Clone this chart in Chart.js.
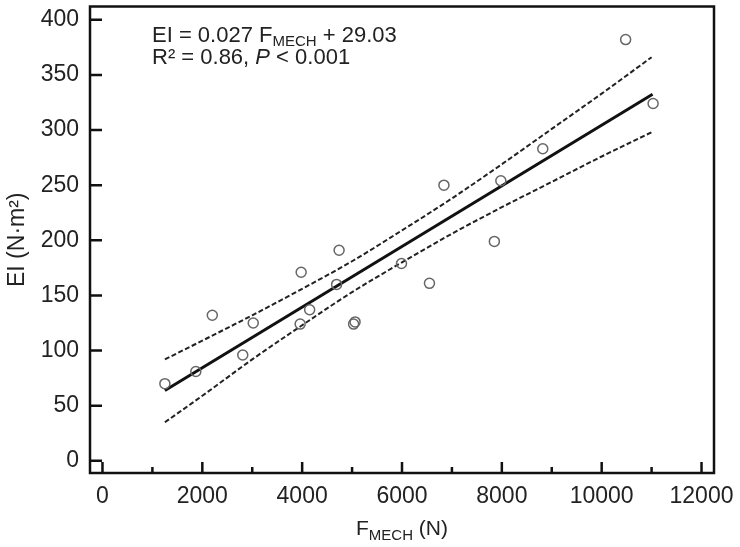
<!DOCTYPE html>
<html>
<head>
<meta charset="utf-8">
<script src="https://cdn.jsdelivr.net/npm/chart.js@4"></script>
<style>
  html, body { margin: 0; background: #fff; }
</style>
</head>
<body>
<canvas id="chart" width="740" height="547"></canvas>
<script>
const FONT = "'Liberation Sans', Arial, sans-serif";
const ink = "#222";

// observations: F_MECH (N) vs EI (N·m²)
const forceN = [1250, 1870, 2200, 2810, 3020, 3980, 3960, 4150, 4690, 4740, 5030, 5060, 5990, 6550, 6840, 7850, 7980, 8820, 10480, 11030];
const eiVals = [70, 81, 132, 96, 125, 171, 124, 137, 160, 191, 124, 126, 179, 161, 250, 199, 254, 283, 382, 324];

// regression line (ends)
const fitX = [1250, 11020];
const fitY = [63.8, 332.5];

// 95% confidence band, read at a few points
const bandX  = [1250, 2000, 3000, 4000, 5000, 6000, 7000, 8000, 9000, 10000, 11000];
const upperY = [92, 109, 132, 156, 181, 209, 238, 269, 301, 333, 366];
const lowerY = [35, 59, 92, 123, 153, 180, 206, 230, 253, 276, 298];

const xTicks = [0, 2000, 4000, 6000, 8000, 10000, 12000];
const xMinor = [1000, 3000, 5000, 7000, 9000, 11000];
const yTicks = [0, 50, 100, 150, 200, 250, 300, 350, 400];

const pts = (xs, ys) => xs.map((x, i) => ({ x: x, y: ys[i] }));

// draws text runs: [text, size, dy, italic]
function runs(ctx, x, y, parts, align) {
  let total = 0;
  parts.forEach(p => {
    ctx.font = (p[3] ? "italic " : "") + p[1] + "px " + FONT;
    p.w = ctx.measureText(p[0]).width;
    total += p.w;
  });
  let cx = align === "center" ? x - total / 2 : x;
  parts.forEach(p => {
    ctx.font = (p[3] ? "italic " : "") + p[1] + "px " + FONT;
    ctx.fillText(p[0], cx, y + p[2]);
    cx += p.w;
  });
}

const framePlugin = {
  id: "frame",
  afterDatasetsDraw(chart) {
    const { ctx, chartArea: a, scales: { x, y } } = chart;
    ctx.save();
    ctx.strokeStyle = "#111";
    ctx.lineWidth = 2.5;
    ctx.strokeRect(a.left, a.top, a.right - a.left, a.bottom - a.top);
    ctx.beginPath();
    xTicks.forEach(v => {
      const px = x.getPixelForValue(v);
      ctx.moveTo(px, a.bottom); ctx.lineTo(px, a.bottom - 11);
    });
    xMinor.forEach(v => {
      const px = x.getPixelForValue(v);
      ctx.moveTo(px, a.bottom); ctx.lineTo(px, a.bottom - 6);
    });
    yTicks.forEach(v => {
      const py = y.getPixelForValue(v);
      ctx.moveTo(a.left, py); ctx.lineTo(a.left + 12, py);
    });
    ctx.stroke();

    ctx.fillStyle = ink;
    ctx.textBaseline = "alphabetic";
    ctx.textAlign = "left";
    runs(ctx, 152, 42, [["EI = 0.027 F", 22, 0], ["MECH", 15, 4], [" + 29.03", 22, 0]]);
    runs(ctx, 152, 64, [["R\u00B2 = 0.86, ", 22, 0], ["P", 22, 0, true], [" < 0.001", 22, 0]]);

    // axis titles
    const cxm = (a.left + a.right) / 2;
    runs(ctx, cxm, 535, [["F", 21, 0], ["MECH", 15, 5], [" (N)", 21, 0]], "center");
    ctx.translate(24, (a.top + a.bottom) / 2);
    ctx.rotate(-Math.PI / 2);
    ctx.font = "23px " + FONT;
    ctx.textAlign = "center";
    ctx.fillText("EI (N\u00B7m\u00B2)", 0, 0);
    ctx.restore();
  }
};

new Chart(document.getElementById("chart"), {
  type: "scatter",
  data: {
    datasets: [
      { data: pts(forceN, eiVals), pointRadius: 5, pointHoverRadius: 5,
        borderColor: "#666", borderWidth: 1.5, backgroundColor: "rgba(0,0,0,0)" },
      { type: "line", data: pts(fitX, fitY), borderColor: "#111", borderWidth: 3,
        pointRadius: 0, fill: false },
      { type: "line", data: pts(bandX, upperY), borderColor: "#222", borderWidth: 2,
        borderDash: [5, 2.5], pointRadius: 0, fill: false, cubicInterpolationMode: "monotone" },
      { type: "line", data: pts(bandX, lowerY), borderColor: "#222", borderWidth: 2,
        borderDash: [5, 2.5], pointRadius: 0, fill: false, cubicInterpolationMode: "monotone" }
    ]
  },
  options: {
    responsive: false,
    animation: false,
    devicePixelRatio: 1,
    layout: { padding: { top: 4, right: 26, left: 0, bottom: 0 } },
    plugins: { legend: { display: false }, tooltip: { enabled: false } },
    scales: {
      x: {
        type: "linear", min: -250, max: 12250,
        grid: { display: false }, border: { display: false },
        ticks: { color: ink, font: { family: FONT, size: 23 }, padding: 2,
                 callback: v => String(v) },
        afterBuildTicks: s => { s.ticks = xTicks.map(v => ({ value: v })); },
        afterFit: s => { s.height = 74; s.paddingLeft = 0; s.paddingRight = 0; }
      },
      y: {
        type: "linear", min: -11, max: 412,
        grid: { display: false }, border: { display: false },
        ticks: { color: ink, font: { family: FONT, size: 23 }, padding: 3,
                 callback: v => String(v) },
        afterBuildTicks: s => { s.ticks = yTicks.map(v => ({ value: v })); },
        afterFit: s => { s.width = 90; s.paddingTop = 0; s.paddingBottom = 0; }
      }
    }
  },
  plugins: [framePlugin]
});
</script>
</body>
</html>
